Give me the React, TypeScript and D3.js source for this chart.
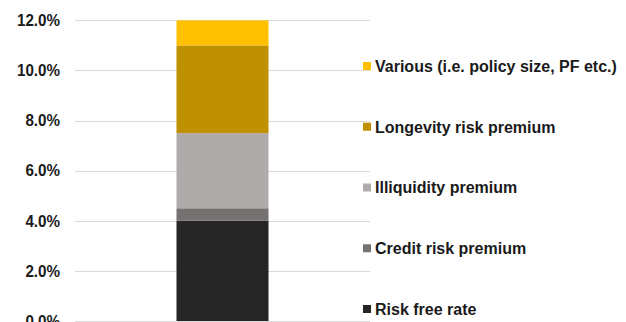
import React, { useEffect, useRef } from "react";
import * as d3 from "d3";

const categories = ["Total"];
const seriesNames = [
  "Risk free rate",
  "Credit risk premium",
  "Illiquidity premium",
  "Longevity risk premium",
  "Various (i.e. policy size, PF etc.)",
];
const seriesValues = [4.0, 0.5, 3.0, 3.5, 1.0];
const seriesColors = ["#262626", "#767171", "#AFABAB", "#BF9000", "#FFC000"];
const yTicks = [0, 2, 4, 6, 8, 10, 12];

export default function App() {
  const ref = useRef<SVGSVGElement>(null);

  useEffect(() => {
    const svg = d3.select(ref.current);
    svg.selectAll("*").remove();

    const plotLeft = 75, plotRight = 370;
    const y = d3.scaleLinear().domain([0, 12]).range([321, 20.4]);
    const x = d3
      .scaleBand<string>()
      .domain(categories)
      .range([plotLeft, plotRight])
      .paddingInner(0)
      .paddingOuter(1.103);

    const font = "'Liberation Sans', Arial, sans-serif";

    // gridlines
    svg
      .append("g")
      .selectAll("line")
      .data(yTicks)
      .join("line")
      .attr("x1", plotLeft)
      .attr("x2", plotRight)
      .attr("y1", (d) => Math.round(y(d)) + 0.5)
      .attr("y2", (d) => Math.round(y(d)) + 0.5)
      .attr("stroke", "#D9D9D9")
      .attr("stroke-width", 1);

    // tick labels
    svg
      .append("g")
      .selectAll("text")
      .data(yTicks)
      .join("text")
      .attr("transform", (d) => `translate(60,${y(d)}) scale(0.95,1)`)
      .attr("text-anchor", "end")
      .attr("dy", "0.36em")
      .attr("font-family", font)
      .attr("font-weight", "bold")
      .attr("font-size", 16)
      .attr("fill", "#1a1a1a")
      .text((d) => d3.format(".1f")(d) + "%");

    // stacked bar
    const table = categories.map((c) => {
      const o: Record<string, any> = { category: c };
      seriesNames.forEach((s, i) => (o[s] = seriesValues[i]));
      return o;
    });
    const stack = d3.stack<any>().keys(seriesNames)(table);
    svg
      .append("g")
      .selectAll("g")
      .data(stack)
      .join("g")
      .attr("fill", (_d, i) => seriesColors[i])
      .selectAll("rect")
      .data((d) => d)
      .join("rect")
      .attr("x", (d: any) => x(d.data.category)!)
      .attr("width", x.bandwidth())
      .attr("y", (d) => y(d[1]))
      .attr("height", (d) => y(d[0]) - y(d[1]));

    // legend (top to bottom: reversed order)
    const legendY = d3
      .scalePoint<string>()
      .domain([...seriesNames].reverse())
      .range([66, 309]);
    const lg = svg
      .append("g")
      .selectAll("g")
      .data(seriesNames)
      .join("g")
      .attr("transform", (d) => `translate(363,${legendY(d)})`);
    lg.append("rect")
      .attr("x", 0)
      .attr("y", -4)
      .attr("width", 8)
      .attr("height", 8)
      .attr("fill", (_d, i) => seriesColors[i]);
    lg.append("text")
      .attr("x", 12)
      .attr("dy", "0.36em")
      .attr("font-family", font)
      .attr("font-weight", "bold")
      .attr("font-size", 16)
      .attr("fill", "#1a1a1a")
      .text((d) => d);
  }, []);

  return (
    <svg
      ref={ref}
      width={626}
      height={322}
      style={{ position: "absolute", left: 0, top: 0, background: "#fff" }}
    />
  );
}
